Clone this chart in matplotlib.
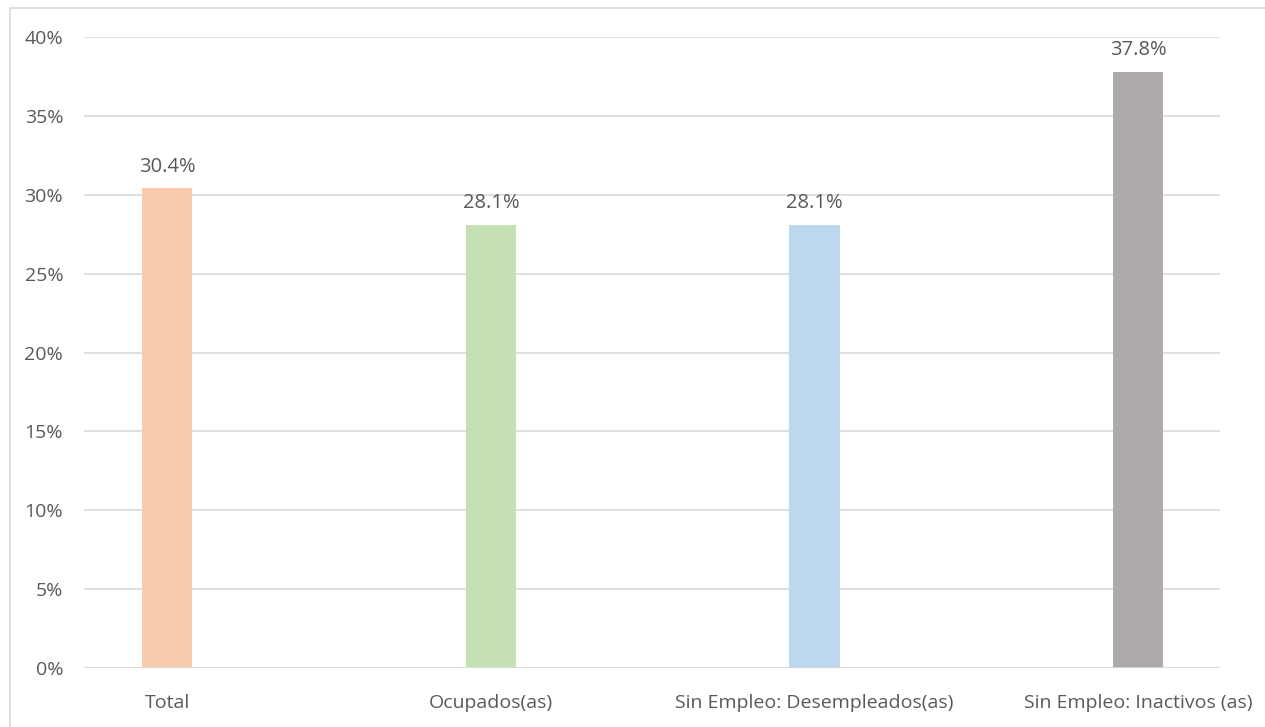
import matplotlib.pyplot as plt
from matplotlib.patches import Rectangle
from matplotlib.ticker import FuncFormatter

categories = ['Total', 'Ocupados(as)', 'Sin Empleo: Desempleados(as)', 'Sin Empleo: Inactivos (as)']
values = [30.4, 28.1, 28.1, 37.8]
colors = ['#F8CBAD', '#C5E0B4', '#BDD7EE', '#AEAAAA']

plt.rcParams['font.family'] = ['Open Sans', 'DejaVu Sans']
text_color = '#595959'

fig = plt.figure(figsize=(12.65, 7.27), dpi=100)
W, H = 1265, 727
# outer chart border (only top/left visible in reference)
fig.patches.append(Rectangle((10 / W, -0.1), 1.2, 1 - 8 / H + 0.1, transform=fig.transFigure,
                             fill=False, edgecolor='#D9D9D9', linewidth=1.2))

ax = fig.add_axes([84 / W, 1 - 668 / H, (1220 - 84) / W, (668 - 37) / H])
x = list(range(len(categories)))
ax.bar(x, values, width=0.155, color=colors, zorder=3)

for xi, v in zip(x, values):
    ax.annotate(f'{v:.1f}%', (xi, v), xytext=(0, 8.5), textcoords='offset points',
                ha='center', va='bottom', fontsize=14.5, color=text_color)

ax.set_ylim(0, 40)
ax.set_xlim(-0.257, 3.253)
ax.set_yticks(range(0, 41, 5))
ax.yaxis.set_major_formatter(FuncFormatter(lambda v, p: f'{v:.0f}%'))
ax.set_xticks(x)
ax.set_xticklabels(categories)
ax.grid(axis='y', color='#D9D9D9', linewidth=1.2, zorder=0)
for s in ax.spines.values():
    s.set_visible(False)
ax.axhline(0, color='#D9D9D9', linewidth=1.2, zorder=4)
ax.tick_params(axis='both', length=0, labelsize=14, colors=text_color)
ax.tick_params(axis='y', pad=15)
ax.tick_params(axis='x', pad=19)

fig.savefig('out.png', dpi=100)
